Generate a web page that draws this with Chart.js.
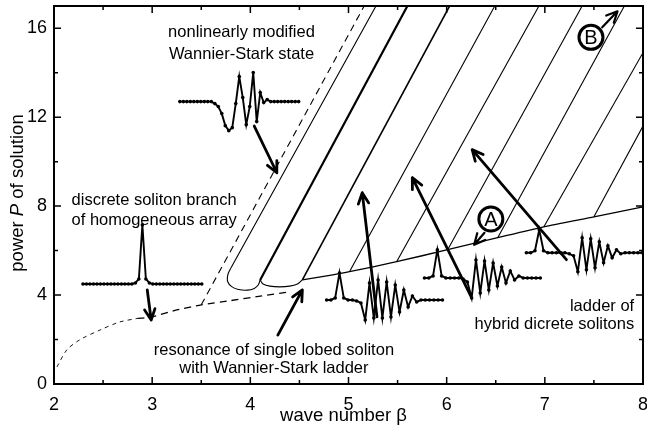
<!DOCTYPE html>
<html>
<head>
<meta charset="utf-8">
<script src="https://cdn.jsdelivr.net/npm/chart.js@4.4.0/dist/chart.umd.min.js"></script>
<style>
  html, body { margin: 0; padding: 0; background: #fff; }
  #wrap { width: 647px; height: 430px; }
</style>
</head>
<body>
<div id="wrap"><canvas id="chart"></canvas></div>
<script>
// axis ticks
const xTicks = [2, 3, 4, 5, 6, 7, 8];
const yTicks = [0, 4, 8, 12, 16];
const xMinor = [2.5, 3.5, 4.5, 5.5, 6.5, 7.5];
const yMinor = [2, 6, 10, 14];

// discrete soliton branch of homogeneous array (dashed)
const branchBeta = [2.03, 2.13, 2.26, 2.47, 2.67, 2.85];
const branchPower = [0.77, 1.53, 1.98, 2.43, 2.79, 2.95];
const branch2Beta = [2.85, 3.0, 3.25, 3.5, 3.8, 4.1, 4.4];
const branch2Power = [2.95, 3.02, 3.33, 3.56, 3.75, 3.95, 4.14];
const steepBeta = [3.5, 5.16];
const steepPower = [3.56, 17];

// nonlinearly modified Wannier-Stark branch with its loop
const loopBeta = [5.28, 3.85, 3.8, 3.77, 3.77, 3.81, 3.88, 3.97, 4.04, 4.08, 4.1];
const loopPower = [17, 5.6, 5.2, 4.9, 4.6, 4.38, 4.25, 4.22, 4.3, 4.45, 4.68];
const bridgeBeta = [4.1, 4.13, 4.2, 4.3, 4.4, 4.48, 4.53];
const bridgePower = [4.68, 4.5, 4.4, 4.37, 4.4, 4.5, 4.68];

// ladder of hybrid solitons (base line)
const ladderBeta = [4.53, 4.84, 5.01, 5.49, 6.01, 6.52, 6.99, 7.5, 8.0];
const ladderPower = [4.68, 4.91, 5.05, 5.5, 6.04, 6.58, 7.07, 7.52, 7.97];

// rungs of the ladder: start and end of each branch
const rungStartBeta = [4.1, 4.53, 5.01, 5.49, 6.01, 6.52, 6.99, 7.5];
const rungStartPower = [4.68, 4.68, 5.05, 5.5, 6.04, 6.58, 7.07, 7.52];
const rungEndBeta = [5.6, 6.03, 6.49, 6.94, 7.38, 7.81, 8.0, 8.0];
const rungEndPower = [17, 17, 17, 17, 17, 17, 14.9, 11.6];
const rungWidth = [2.2, 1.6, 1.1, 1.1, 1.1, 1.1, 1.1, 1.1];

// inset field profiles (amplitude per site)
const wsProfile = [0, 0, 0, 0, 0, 0, 0, 0, 0, 0, -2, -5, -12, -24, -29, -26, -2, 25, 4, -23, -5, 29, -20, 9, -1, 2, 0, 0, 0, 0, 0, 0, 0, 0, 0];
const dsProfile = [0, 0, 0, 0, 0, 0, 0, 0, 0, 0, 0, 0, 0, 0, 0, 1, 5, 59, 5, 1, 0, 0, 0, 0, 0, 0, 0, 0, 0, 0, 0, 0, 0, 0, 0];
const hyb1Profile = [0, 0, 2, 27, 2, 0, 0, -1, -3, -20, 17, -18, 20, -18, 18, -17, 15, -12, 10, -7, 4, -2, 0, 0, 0, 0, 0, 0];
const hyb2Profile = [0, 0, 2, 28, 2, 0, 0, 0, 0, -1, -4, -20, 18, -15, 17, -12, 15, -8, 11, -5, 7, -2, 2, 0, 0, 0, 0, 0];
const hyb3Profile = [0, 0, 2, 23, 2, 0, 0, 0, 0, 0, -1, -3, -19, 15, -17, 14, -15, 11, -10, 7, -5, 3, -1, 0, 0, 0, 0, 0];

// where the insets sit on the axes
const insets = [
    { profile: wsProfile, x0: 3.282, dx: 0.0356, y0: 12.7 },
    { profile: dsProfile, x0: 2.295, dx: 0.0356, y0: 4.5 },
    { profile: hyb1Profile, x0: 4.777, dx: 0.0437, y0: 3.78 },
    { profile: hyb2Profile, x0: 5.774, dx: 0.0437, y0: 4.77 },
    { profile: hyb3Profile, x0: 6.812, dx: 0.0437, y0: 5.9 }
];
const ampScale = 0.045;

// arrows: [fromBeta, fromPower, toBeta, toPower, width]
const arrows = [
    [4.04, 11.6, 4.27, 9.5, 2.8],
    [2.95, 4.23, 2.99, 2.88, 2.8],
    [4.28, 2.2, 4.53, 4.23, 2.8],
    [5.29, 3.02, 5.14, 8.6, 2.8],
    [6.25, 3.92, 5.65, 9.28, 2.8],
    [7.22, 5.59, 6.26, 10.54, 2.8],
    [6.385, 6.8, 6.28, 6.26, 2.2],
    [7.585, 16.04, 7.74, 16.76, 2.2]
];
const circled = [
    { text: 'A', x: 6.45, y: 7.42 },
    { text: 'B', x: 7.47, y: 15.59 }
];
const notes = [
    { text: 'nonlinearly modified', x: 3.91, y: 15.81, align: 'center' },
    { text: 'Wannier-Stark state', x: 3.91, y: 14.82, align: 'center' },
    { text: 'discrete soliton branch', x: 3.02, y: 8.24, align: 'center' },
    { text: 'of homogeneous array', x: 3.02, y: 7.34, align: 'center' },
    { text: 'resonance of single lobed soliton', x: 4.24, y: 1.53, align: 'center' },
    { text: 'with Wannier-Stark ladder', x: 4.24, y: 0.68, align: 'center' },
    { text: 'ladder of', x: 7.91, y: 3.47, align: 'right' },
    { text: 'hybrid dicrete solitons', x: 7.91, y: 2.66, align: 'right' }
];

const FONT = "'Liberation Sans', Arial, Helvetica, sans-serif";

function pts(bs, ps) {
    return bs.map((b, i) => ({ x: b, y: ps[i] }));
}

function lineSet(data, width, dash, tension) {
    return {
        data: data,
        showLine: true,
        borderColor: '#000',
        borderWidth: width,
        borderDash: dash || [],
        pointRadius: 0,
        tension: tension || 0,
        fill: false
    };
}

const datasets = [
    lineSet(pts(branchBeta, branchPower), 0.9, [4, 4], 0.3),
    lineSet(pts(branch2Beta, branch2Power), 1.3, [7, 5], 0.2),
    lineSet(pts(steepBeta, steepPower), 1.1, [7, 5]),
    lineSet(pts(loopBeta, loopPower), 1.1, null, 0.35),
    lineSet(pts(bridgeBeta, bridgePower), 1.1, null, 0.35),
    lineSet(pts(ladderBeta, ladderPower), 1.3, null, 0.2)
];

rungStartBeta.forEach(function (b, i) {
    datasets.push(lineSet([{ x: b, y: rungStartPower[i] }, { x: rungEndBeta[i], y: rungEndPower[i] }], rungWidth[i]));
});

insets.forEach(function (s) {
    datasets.push({
        data: s.profile.map((a, i) => ({ x: s.x0 + i * s.dx, y: s.y0 + a * ampScale })),
        showLine: true,
        borderColor: '#000',
        borderWidth: 1.9,
        pointRadius: 1.8,
        pointBorderWidth: 0,
        pointBackgroundColor: '#000',
        tension: 0
    });
});

function drawArrow(ctx, x1, y1, x2, y2, w) {
    const ang = Math.atan2(y2 - y1, x2 - x1);
    const len = 12;
    ctx.lineWidth = w;
    ctx.beginPath();
    ctx.moveTo(x1, y1);
    ctx.lineTo(x2, y2);
    ctx.moveTo(x2 - len * Math.cos(ang - 0.45), y2 - len * Math.sin(ang - 0.45));
    ctx.lineTo(x2, y2);
    ctx.lineTo(x2 - len * Math.cos(ang + 0.45), y2 - len * Math.sin(ang + 0.45));
    ctx.stroke();
}

const decor = {
    id: 'decor',
    afterDatasetsDraw(chart) {
        const ctx = chart.ctx;
        const a = chart.chartArea;
        const xs = chart.scales.x, ys = chart.scales.y;
        const px = v => xs.getPixelForValue(v);
        const py = v => ys.getPixelForValue(v);
        ctx.save();
        ctx.strokeStyle = '#000';
        ctx.fillStyle = '#000';
        ctx.lineCap = 'butt';

        // frame and inward ticks
        ctx.lineWidth = 2;
        ctx.strokeRect(a.left, a.top, a.right - a.left, a.bottom - a.top);
        ctx.lineWidth = 1.5;
        ctx.beginPath();
        const xt = xTicks.map(v => [v, 7]).concat(xMinor.map(v => [v, 4]));
        xt.forEach(function (t) {
            const p = px(t[0]);
            ctx.moveTo(p, a.bottom); ctx.lineTo(p, a.bottom - t[1]);
            ctx.moveTo(p, a.top); ctx.lineTo(p, a.top + t[1]);
        });
        const yt = yTicks.map(v => [v, 7]).concat(yMinor.map(v => [v, 4]));
        yt.forEach(function (t) {
            const p = py(t[0]);
            ctx.moveTo(a.left, p); ctx.lineTo(a.left + t[1], p);
            ctx.moveTo(a.right, p); ctx.lineTo(a.right - t[1], p);
        });
        ctx.stroke();

        // arrows
        ctx.lineCap = 'round';
        ctx.lineJoin = 'round';
        arrows.forEach(function (r) {
            drawArrow(ctx, px(r[0]), py(r[1]), px(r[2]), py(r[3]), r[4]);
        });

        // circled letters
        circled.forEach(function (c) {
            ctx.lineWidth = 3;
            ctx.beginPath();
            ctx.arc(px(c.x), py(c.y), 12, 0, Math.PI * 2);
            ctx.stroke();
            ctx.font = '20px ' + FONT;
            ctx.textAlign = 'center';
            ctx.textBaseline = 'middle';
            ctx.fillText(c.text, px(c.x), py(c.y) + 1);
        });

        // notes
        ctx.font = '16.5px ' + FONT;
        ctx.textBaseline = 'middle';
        notes.forEach(function (n) {
            ctx.textAlign = n.align;
            ctx.fillText(n.text, px(n.x), py(n.y));
        });

        // axis titles
        ctx.font = '18.5px ' + FONT;
        ctx.textAlign = 'center';
        ctx.fillText('wave number \u03b2', (a.left + a.right) / 2 - 5, 416);

        ctx.translate(18, 193);
        ctx.rotate(-Math.PI / 2);
        const parts = [['power ', ''], ['P', 'italic '], [' of solution', '']];
        let total = 0;
        parts.forEach(function (p) { ctx.font = p[1] + '18.5px ' + FONT; total += ctx.measureText(p[0]).width; });
        let cx = -total / 2;
        ctx.textAlign = 'left';
        parts.forEach(function (p) {
            ctx.font = p[1] + '18.5px ' + FONT;
            ctx.fillText(p[0], cx, 0);
            cx += ctx.measureText(p[0]).width;
        });
        ctx.restore();
    }
};

new Chart(document.getElementById('chart').getContext('2d'), {
    type: 'scatter',
    data: { datasets: datasets },
    options: {
        responsive: true,
        maintainAspectRatio: false,
        animation: false,
        devicePixelRatio: 1,
        layout: { padding: { top: 6, right: 2, left: 0, bottom: 0 } },
        plugins: { legend: { display: false }, tooltip: { enabled: false } },
        scales: {
            x: {
                type: 'linear', min: 2, max: 8,
                grid: { display: false, drawTicks: false },
                border: { display: false },
                afterBuildTicks: function (s) { s.ticks = xTicks.map(v => ({ value: v })); },
                afterFit: function (s) { s.height = 46; s.paddingLeft = 0; s.paddingRight = 0; },
                ticks: { color: '#000', padding: 10, maxRotation: 0, font: { family: FONT, size: 18 } }
            },
            y: {
                type: 'linear', min: 0, max: 17,
                grid: { display: false, drawTicks: false },
                border: { display: false },
                afterBuildTicks: function (s) { s.ticks = yTicks.map(v => ({ value: v })); },
                afterFit: function (s) { s.width = 54; s.paddingTop = 0; s.paddingBottom = 0; },
                ticks: { color: '#000', padding: 7, font: { family: FONT, size: 18 } }
            }
        }
    },
    plugins: [decor]
});
</script>
</body>
</html>
